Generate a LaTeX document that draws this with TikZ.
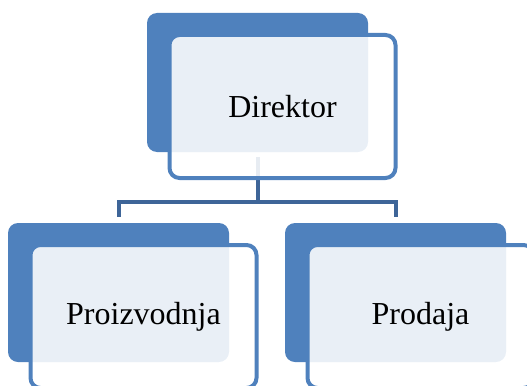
\documentclass[tikz,border=0pt]{standalone}
\usepackage{fontspec}
\setmainfont{Liberation Serif}
\usetikzlibrary{calc}
\usetikzlibrary{backgrounds}
\definecolor{unitblue}{RGB}{79,129,189}
\definecolor{linkblue}{RGB}{62,101,152}
\tikzset{
	backbox/.style={draw=none, fill=unitblue, rounded corners=7.5pt,
		minimum width=165.75pt, minimum height=104.25pt, inner sep=0pt},
	framebox/.style={draw=unitblue, line width=3pt, fill=white, fill opacity=0.88,
		text opacity=1, rounded corners=7.5pt, minimum width=169.5pt,
		minimum height=107.25pt, inner sep=0pt, font=\fontsize{24}{28}\selectfont},
	link/.style={draw=linkblue, line width=3pt}
}
\newcommand{\orgunit}[4] % name, x in px, y in px, text
{
	% blue card behind
	\node[backbox] (#1back) at (#2,#3) {};
	% light card in front, with text
	\node[framebox] (#1) at ($(#1back.center)+(25,24)$) {#4};
}
\begin{document}
\begin{tikzpicture}[x=0.75pt, y=-0.75pt]
	% 527 x 385 px canvas
	\useasboundingbox (0,0) rectangle (527,385);
	\clip (0,0) rectangle (527,385);
	% top level
	\orgunit{dir}{257.5}{82.5}{Direktor}
	% second level
	\orgunit{proiz}{118.5}{292.5}{Proizvodnja}
	\orgunit{prod}{395.5}{292.5}{Prodaja}
	% connectors
	\begin{pgfonlayer}{background}
		\coordinate (bar) at ($(dirback.south)+(0,50)$);
		\draw[link, shorten <=3.75pt] (dirback.south) -- (bar);
		\draw[link, shorten >=4.5pt] (bar) -| (proizback.north);
		\draw[link, shorten >=4.5pt] (bar) -| (prodback.north);
	\end{pgfonlayer}
\end{tikzpicture}
\end{document}
